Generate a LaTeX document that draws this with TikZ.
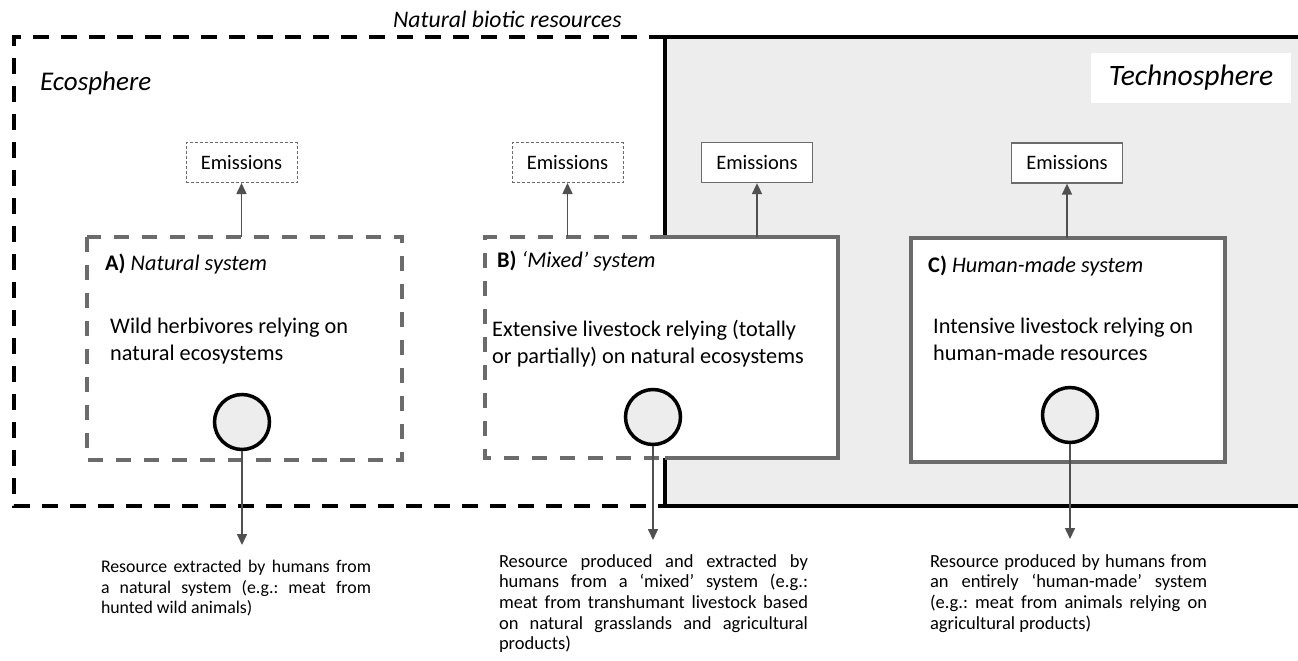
\documentclass[tikz,border=0pt]{standalone}
\usepackage{fontspec}
\setmainfont{Carlito}
\usetikzlibrary{arrows.meta,positioning}
\definecolor{boxgray}{HTML}{6B6B6B}
\definecolor{arrgray}{HTML}{505050}
\definecolor{techfill}{HTML}{EDEDED}
\hyphenpenalty=10000
\exhyphenpenalty=10000
\frenchspacing

\begin{document}
\begin{tikzpicture}[x=1pt, y=-1pt,
    emis/.style={draw=boxgray, line width=1.3pt, fill=white, minimum width=111pt,
      minimum height=40pt, inner sep=0pt, font=\fontsize{20.5}{24}\selectfont},
    emisdash/.style={emis, line width=1pt, dash pattern=on 3pt off 2pt},
    sysbox/.style={fill=white, inner sep=0pt, anchor=north west},
    sysline/.style={draw=boxgray, line width=4pt},
    sysdash/.style={sysline, dash pattern=on 15pt off 13pt},
    res/.style={circle, draw=black, line width=3.5pt, fill=techfill,
      minimum size=55pt, inner sep=0pt},
    flow/.style={draw=arrgray, line width=1.6pt, -{Triangle[width=10pt,length=11pt]}},
    bigdash/.style={line width=4pt, dash pattern=on 16pt off 12pt},
    title/.style={anchor=base west, inner sep=0pt, font=\fontsize{22.3}{26}\selectfont},
    body/.style={anchor=north west, inner sep=0pt, align=left,
      font=\fontsize{22.3}{26.5}\selectfont},
    desc/.style={anchor=north, inner sep=0pt, align=justify,
      font=\fontsize{18.5}{20.7}\selectfont}
  ]
  \useasboundingbox (0,0) rectangle (1298,661);

  % technosphere and ecosphere
  \coordinate (techNW) at (665,37);
  \coordinate (techSW) at (665,506);
  \fill[techfill] (techNW) rectangle (1310,506);
  \draw[line width=4pt] (1310,37) -- (techNW) -- (techSW) -- (1310,506);
  \draw[bigdash] (techNW) -- (14,37) -- (14,506) -- (techSW);
  \node[anchor=base west, inner sep=0pt, font=\fontsize{23.7}{27}\selectfont\itshape]
    (natlab) at (393,28) {Natural biotic resources};
  \node[anchor=base west, inner sep=0pt, font=\fontsize{27}{31}\selectfont\itshape]
    (ecolab) at (40,90) {Ecosphere};
  \node[fill=white, minimum width=200pt, minimum height=50pt,
    font=\fontsize{29.6}{33}\selectfont\itshape] (techlab) at (1191,78) {Technosphere};

  % systems
  \node[sysbox, minimum width=315pt, minimum height=223pt] (sysA) at (87,237) {};
  \node[sysbox, minimum width=353pt, minimum height=221pt] (sysB) at (485,237) {};
  \node[sysbox, minimum width=314pt, minimum height=224pt] (sysC) at (911,238) {};
  \draw[sysdash] (sysA.north west) rectangle (sysA.south east);
  \draw[sysdash] (sysB.north -| techNW) -- (sysB.north west) -- (sysB.south west)
    -- (sysB.south -| techNW);
  \draw[sysline] (sysB.north -| techNW) -- (sysB.north east) -- (sysB.south east)
    -- (sysB.south -| techNW);
  \draw[sysline] (sysC.north west) rectangle (sysC.south east);

  \node[title] (titA) at ([shift={(18,33)}]sysA.north west) {\textbf{A)} \textit{Natural system}};
  \node[title] (titB) at ([shift={(12,30)}]sysB.north west) {\textbf{B)} \textit{‘Mixed’ system}};
  \node[title] (titC) at ([shift={(17,34)}]sysC.north west) {\textbf{C)} \textit{Human-made system}};

  \node[body] (txtA) at (110,318) {Wild herbivores relying on\\natural ecosystems};
  \node[body] (txtB) at (492,320) {Extensive livestock relying (totally\\or partially) on natural ecosystems};
  \node[body] (txtC) at (933,318) {Intensive livestock relying on\\human-made resources};

  % emissions
  \node[emisdash] (emA) at (241.5,162.5) {Emissions};
  \node[emisdash] (emB) at (567.5,162.5) {Emissions};
  \node[emis] (emBt) at (757,162.5) {Emissions};
  \node[emis] (emC) at (1067,163) {Emissions};
  \draw[flow] (sysA.north -| emA) -- (emA.south);
  \draw[flow] (sysB.north -| emB) -- (emB.south);
  \draw[flow] (sysB.north -| emBt) -- (emBt.south);
  \draw[flow] (sysC.north -| emC) -- (emC.south);

  % resources
  \node[res] (cA) at (242,422) {};
  \node[res] (cB) at (653,417) {};
  \node[res] (cC) at (1070,415) {};

  \node[desc, text width=270pt, font=\fontsize{17.8}{20.7}\selectfont] (dA) at (236,560)
    {Resource extracted by humans from\linebreak
    a natural system (e.g.: meat from\linebreak hunted wild animals)};
  \node[desc, text width=309pt] (dB) at (653.5,554) {Resource produced and extracted by\linebreak
    humans from a ‘mixed’ system (e.g.:\linebreak meat from transhumant livestock based\linebreak
    on natural grasslands and agricultural\linebreak products)};
  \node[desc, text width=277pt] (dC) at (1068.5,554) {Resource produced by humans from\linebreak
    an entirely ‘human-made’ system\linebreak (e.g.: meat from animals relying on\linebreak
    agricultural products)};

  \draw[flow, shorten >=15pt] (cA.south) -- (cA.south |- dA.north);
  \draw[flow, shorten >=14pt] (cB.south) -- (cB.south |- dB.north);
  \draw[flow, shorten >=15pt] (cC.south) -- (cC.south |- dC.north);
\end{tikzpicture}
\end{document}
